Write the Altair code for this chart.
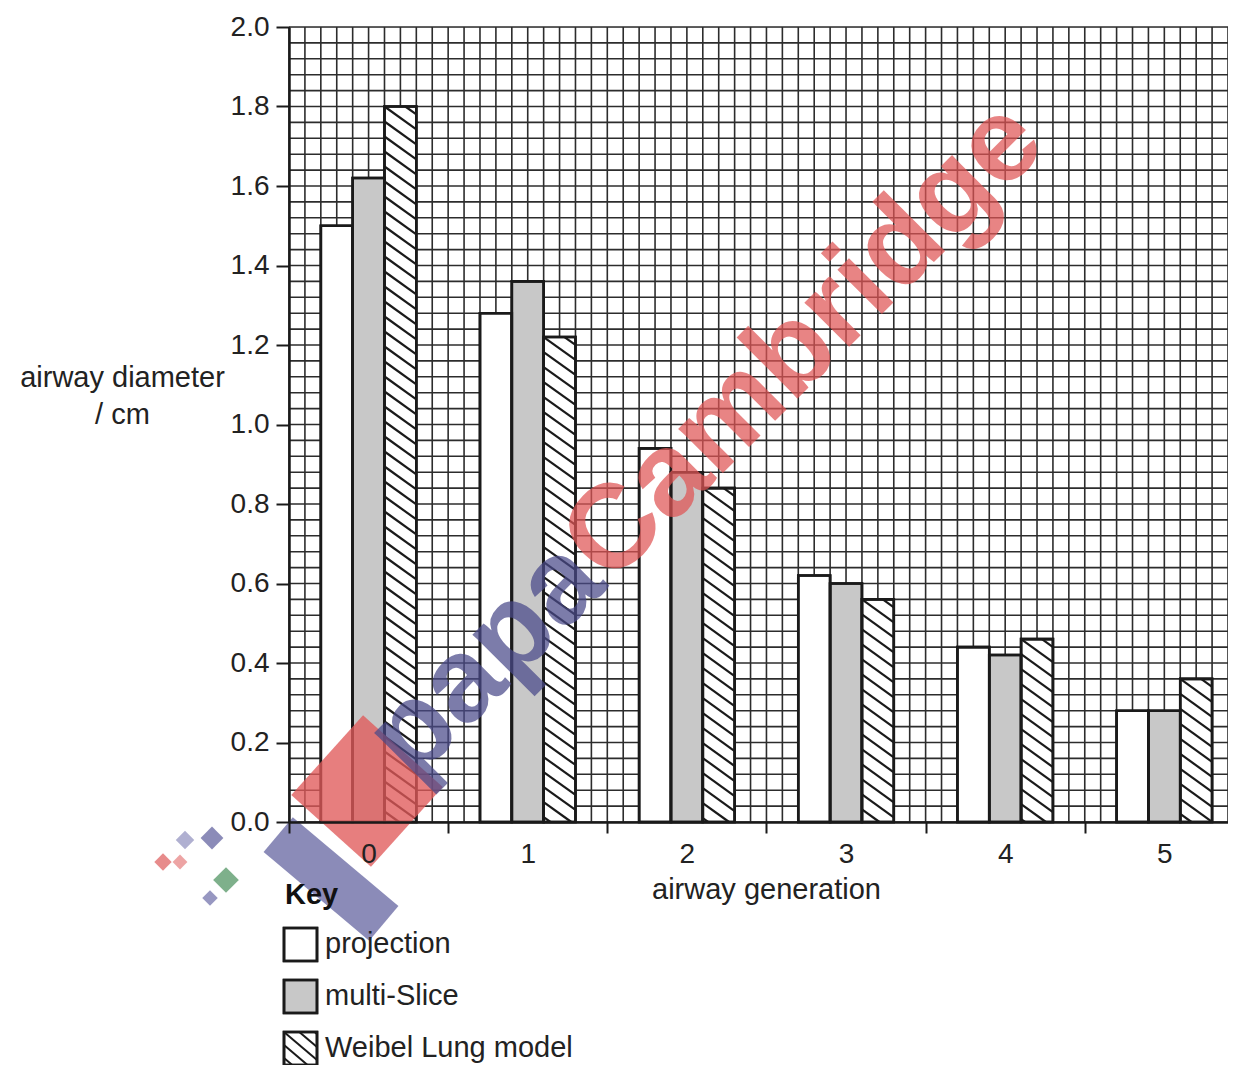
import math
import altair as alt
import pandas as pd
import numpy as np

# ---------------- data ----------------
generations = [0, 1, 2, 3, 4, 5]
series = ["projection", "multi-Slice", "Weibel Lung model"]
projection = [1.50, 1.28, 0.94, 0.62, 0.44, 0.28]
multi_slice = [1.62, 1.36, 0.88, 0.60, 0.42, 0.28]
weibel = [1.80, 1.22, 0.84, 0.56, 0.46, 0.36]
y_ticks = [0.0, 0.2, 0.4, 0.6, 0.8, 1.0, 1.2, 1.4, 1.6, 1.8, 2.0]

# ---------------- geometry ----------------
W, H = 939, 795
X_MIN, X_MAX = -0.5, 5.4
Y_MIN, Y_MAX = 0.0, 2.0
PX_X = W / (X_MAX - X_MIN)
PX_Y = H / (Y_MAX - Y_MIN)
BAR_W = 0.2
offsets = [-0.2, 0.0, 0.2]
fills = ["#ffffff", "#c8c8c8", "#ffffff"]
hatched = [False, False, True]
FONT = "Liberation Sans"
INK = "#1a1a1a"
TXT = "#222222"
FS_LABEL = 28
FS_TITLE = 29

xs = alt.Scale(domain=[X_MIN, X_MAX], nice=False, zero=False)
ys = alt.Scale(domain=[Y_MIN, Y_MAX], nice=False, zero=False)

rows = []
for s, vals, off, fill in zip(series, [projection, multi_slice, weibel], offsets, fills):
    for g, v in zip(generations, vals):
        rows.append(dict(series=s, gen=g, value=v, x0=g + off - BAR_W / 2,
                         x1=g + off + BAR_W / 2, fill=fill))
bars = pd.DataFrame(rows)


def hatch_px(x0, x1, ytop, ybot, slope=0.72, step=15.0):
    segs = []
    w = x1 - x0
    c = -step * math.floor(slope * w / step)
    while c < ybot - ytop:
        t_lo = max(0.0, -c / slope)
        t_hi = min(w, (ybot - ytop - c) / slope)
        if t_hi > t_lo + 0.5:
            segs.append((x0 + t_lo, ytop + c + slope * t_lo, x0 + t_hi, ytop + c + slope * t_hi))
        c += step
    return segs


# hatch segments for the hatched series, derived from the bar values
hrows = []
for s, vals, off, h in zip(series, [projection, multi_slice, weibel], offsets, hatched):
    if not h:
        continue
    for g, v in zip(generations, vals):
        px0 = (g + off - BAR_W / 2 - X_MIN) * PX_X
        px1 = (g + off + BAR_W / 2 - X_MIN) * PX_X
        pyt = (Y_MAX - v) * PX_Y
        pyb = (Y_MAX - 0) * PX_Y
        for a, b, c2, d in hatch_px(px0, px1, pyt, pyb):
            hrows.append(dict(x=X_MIN + a / PX_X, y=Y_MAX - b / PX_Y,
                              x2=X_MIN + c2 / PX_X, y2=Y_MAX - d / PX_Y))
hatch_df = pd.DataFrame(hrows)

# grid
gx = pd.DataFrame({"x": np.round(np.arange(0, 60) * 0.1 + X_MIN, 6)})
gy = pd.DataFrame({"y": np.round(np.arange(0, 51) * 0.04, 6)})

y_axis = alt.Axis(values=y_ticks, format=".1f", labelFontSize=FS_LABEL, labelFont=FONT,
                  labelColor=TXT, tickSize=13, tickWidth=2, tickColor=INK,
                  domainColor=INK, domainWidth=2.5, labelPadding=7, grid=False,
                  title=["airway diameter", "/ cm"], titleAngle=0, titleX=-167,
                  titleY=359, titleAlign="center", titleBaseline="alphabetic",
                  titleFontSize=FS_TITLE, titleFont=FONT, titleFontWeight="normal",
                  titleColor=TXT, titleLineHeight=37, zindex=1)
x_axis = alt.Axis(values=generations, format="d", tickOffset=-PX_X / 2,
                  labelOffset=PX_X / 2, tickSize=11, tickWidth=2, tickColor=INK,
                  domainColor=INK, domainWidth=2.5, labelPadding=7,
                  labelFontSize=FS_LABEL, labelFont=FONT, labelColor=TXT,
                  grid=False, labelFlush=False, labelBound=False,
                  title="airway generation", titleX=477, titleY=76,
                  titleAlign="center", titleBaseline="alphabetic",
                  titleFontSize=FS_TITLE, titleFont=FONT, titleFontWeight="normal",
                  titleColor=TXT, zindex=1)

GRID_C, GRID_W = "#2c2c2c", 1.6
grid_x = alt.Chart(gx).mark_rule(color=GRID_C, strokeWidth=GRID_W).encode(
    x=alt.X("x:Q", scale=xs, axis=x_axis))
grid_y = alt.Chart(gy).mark_rule(color=GRID_C, strokeWidth=GRID_W).encode(
    y=alt.Y("y:Q", scale=ys, axis=y_axis))

bar_layer = alt.Chart(bars).mark_rect(stroke=INK, strokeWidth=2.6).encode(
    x=alt.X("x0:Q", scale=xs, axis=x_axis),
    x2="x1:Q",
    y=alt.Y("value:Q", scale=ys, axis=y_axis),
    y2=alt.datum(0),
    fill=alt.Fill("fill:N", scale=None),
)

hatch_layer = alt.Chart(hatch_df).mark_rule(color=INK, strokeWidth=2.2).encode(
    x=alt.X("x:Q", scale=xs, axis=x_axis), y=alt.Y("y:Q", scale=ys, axis=y_axis),
    x2="x2:Q", y2="y2:Q")

bar_outline = alt.Chart(bars).mark_rect(stroke=INK, strokeWidth=2.6, fillOpacity=0).encode(
    x=alt.X("x0:Q", scale=xs, axis=x_axis), x2="x1:Q",
    y=alt.Y("value:Q", scale=ys, axis=y_axis), y2=alt.datum(0))

# ---------------- legend (Key) ----------------
LEG_X0, LEG_SIZE, LEG_TOP, LEG_STEP = -5, 33, 901, 52
leg = pd.DataFrame({
    "label": series,
    "fill": fills,
    "x0": [LEG_X0] * 3,
    "x1": [LEG_X0 + LEG_SIZE] * 3,
    "y0": [LEG_TOP + i * LEG_STEP for i in range(3)],
    "y1": [LEG_TOP + i * LEG_STEP + LEG_SIZE for i in range(3)],
    "tx": [LEG_X0 + LEG_SIZE + 8] * 3,
    "ty": [LEG_TOP + i * LEG_STEP + 25 for i in range(3)],
})
leg_boxes = alt.Chart(leg).mark_rect(stroke=INK, strokeWidth=2.6).encode(
    x=alt.X("x0:Q", scale=None), x2="x1:Q", y=alt.Y("y0:Q", scale=None), y2="y1:Q",
    fill=alt.Fill("fill:N", scale=None))
leg_text = alt.Chart(leg).mark_text(align="left", baseline="alphabetic", fontSize=FS_TITLE,
                                    font=FONT, color=TXT).encode(
    x=alt.X("tx:Q", scale=None), y=alt.Y("ty:Q", scale=None), text="label:N")
lh = []
for i, h in enumerate(hatched):
    if h:
        y0 = LEG_TOP + i * LEG_STEP
        for a, b, c2, d in hatch_px(LEG_X0, LEG_X0 + LEG_SIZE, y0, y0 + LEG_SIZE, slope=0.85, step=13):
            lh.append(dict(x=a, y=b, x2=c2, y2=d))
leg_hatch = alt.Chart(pd.DataFrame(lh)).mark_rule(color=INK, strokeWidth=2.0).encode(
    x=alt.X("x:Q", scale=None), y=alt.Y("y:Q", scale=None), x2="x2:Q", y2="y2:Q")
leg_boxes_outline = alt.Chart(leg).mark_rect(stroke=INK, strokeWidth=2.6, fillOpacity=0).encode(
    x=alt.X("x0:Q", scale=None), x2="x1:Q", y=alt.Y("y0:Q", scale=None), y2="y1:Q")
key_title = alt.Chart(pd.DataFrame({"t": ["Key"]})).mark_text(
    align="left", baseline="alphabetic", fontSize=FS_TITLE, font=FONT, fontWeight="bold",
    color="#111111").encode(x=alt.value(-4), y=alt.value(877), text="t:N")

# ---------------- watermark ----------------
WM_SIZE = 119
wm = pd.DataFrame({
    "t": ["papa", "Cambridge"],
    "c": ["#4a4a8a", "#e05555"],
    "x": [124, 124 + 2.334 * WM_SIZE * 0.7071],
    "y": [756, 756 - 2.334 * WM_SIZE * 0.7071],
})
watermark = alt.Chart(wm).mark_text(align="left", baseline="alphabetic", fontSize=WM_SIZE,
                                    font=FONT, fontWeight="bold", angle=315,
                                    opacity=0.72).encode(
    x=alt.X("x:Q", scale=None), y=alt.Y("y:Q", scale=None), text="t:N",
    color=alt.Color("c:N", scale=None))

logo = pd.DataFrame({
    "x": [42, 78, -104, -77, -126, -109, -63, -79],
    "y": [852, 764, 813, 811, 835, 835, 853, 871],
    "c": ["#6a6aa4", "#e05a5a", "#9a9ac4", "#6a6aa4", "#e06a6a", "#e88a8a", "#5a9a6a", "#7a7ab0"],
    "shape": ["M-1,-0.33L1,-0.33L1,0.33L-1,0.33Z"] + ["M-1,-1L1,-1L1,1L-1,1Z"] * 7,
    "size": [19000, 11500, 170, 260, 150, 110, 330, 120],
    "angle": [40, 42, 45, 45, 45, 45, 45, 45],
})
logo_layer = alt.Chart(logo).mark_point(filled=True, opacity=0.78, strokeWidth=0).encode(
    x=alt.X("x:Q", scale=None), y=alt.Y("y:Q", scale=None),
    color=alt.Color("c:N", scale=None), shape=alt.Shape("shape:N", scale=None),
    size=alt.Size("size:Q", scale=None), angle=alt.Angle("angle:Q", scale=None))

chart = alt.layer(
    grid_x, grid_y, bar_layer, hatch_layer, bar_outline,
    logo_layer, key_title, leg_boxes, leg_hatch, leg_boxes_outline, leg_text, watermark,
).properties(
    width=W, height=H,
    padding={"left": 281, "top": 19, "right": 0, "bottom": 250},
    autosize=alt.AutoSizeParams(type="none"),
).configure_view(stroke=None).configure(background="white")

chart.save("out.html", embed_options={"renderer": "svg", "actions": False})
